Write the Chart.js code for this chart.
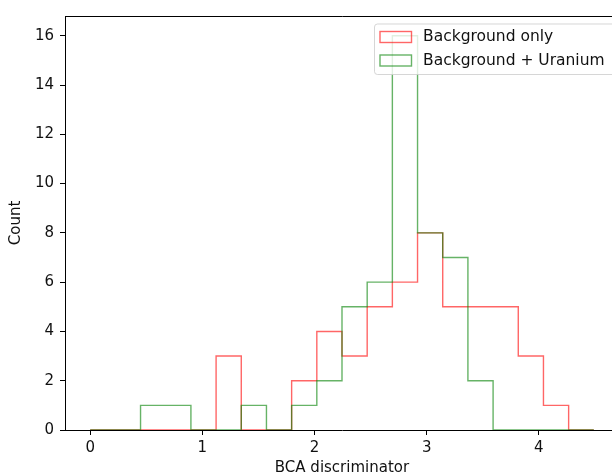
<!DOCTYPE html>
<html>
<head>
<meta charset="utf-8">
<script src="https://cdn.jsdelivr.net/npm/chart.js@4"></script>
<style>
html, body { margin: 0; padding: 0; background: #fff; overflow: hidden; }
#wrap { width: 640px; height: 475px; }
</style>
</head>
<body>
<div id="wrap"><canvas id="myChart" width="640" height="475"></canvas></div>
<script>
// histogram bins (20 bins, 0 .. 4.49)
var binEdges = [0, 0.2245, 0.449, 0.6735, 0.898, 1.1225, 1.347, 1.5715, 1.796, 2.0205,
    2.245, 2.4695, 2.694, 2.9185, 3.143, 3.3675, 3.592, 3.8165, 4.041, 4.2655, 4.49];
var backgroundOnly = [0, 0, 0, 0, 0, 3, 0, 0, 2, 4, 3, 5, 6, 8, 5, 5, 5, 3, 1, 0];
var backgroundUranium = [0, 0, 1, 1, 0, 0, 1, 0, 1, 2, 5, 6, 16, 8, 7, 2, 0, 0, 0, 0];
var seriesNames = ['Background only', 'Background + Uranium'];
var xTicks = [0, 1, 2, 3, 4];
var yTicks = [0, 2, 4, 6, 8, 10, 12, 14, 16];

var RED = 'rgba(255,0,0,0.6)';
var GREEN = 'rgba(0,128,0,0.6)';
var FONT = 'DejaVu Sans';
var FSIZE = 15;

//turn counts into the outline of a step histogram
function stepPoints(counts) {
    var pts = [{x: binEdges[0], y: 0}];
    for (var i = 0; i < counts.length; i++) {
        pts.push({x: binEdges[i], y: counts[i]});
        pts.push({x: binEdges[i + 1], y: counts[i]});
    }
    pts.push({x: binEdges[binEdges.length - 1], y: 0});
    return pts;
}

//top and right spines + the legend box
const framePlugin = {
    id: 'frame',
    afterDraw(chart) {
        const ctx = chart.ctx, a = chart.chartArea;
        ctx.save();
        ctx.strokeStyle = '#000';
        ctx.lineWidth = 1;
        ctx.beginPath();
        ctx.moveTo(a.left, a.top + 0.5);
        ctx.lineTo(a.right + 0.5, a.top + 0.5);
        ctx.lineTo(a.right + 0.5, a.bottom);
        ctx.stroke();

        // legend
        var bx = 374.5, by = 24, bw = 260, bh = 50.5;
        ctx.beginPath();
        ctx.roundRect(bx, by, bw, bh, 3);
        ctx.fillStyle = 'rgba(255,255,255,0.8)';
        ctx.fill();
        ctx.strokeStyle = 'rgba(204,204,204,0.8)';
        ctx.stroke();

        var colors = [RED, GREEN];
        var rows = [37, 60.5];
        ctx.font = '15.5px "' + FONT + '"';
        ctx.textBaseline = 'middle';
        ctx.lineWidth = 1.4;
        for (var i = 0; i < seriesNames.length; i++) {
            ctx.strokeStyle = colors[i];
            ctx.strokeRect(380, rows[i] - 5.5, 31.5, 11);
            ctx.fillStyle = '#111';
            ctx.fillText(seriesNames[i], 423, rows[i]);
        }
        ctx.restore();
    }
};

const GRAPH = document.getElementById('myChart');
const histChart = new Chart(GRAPH, {
    type: 'line',
    data: {
        datasets: [{
            label: seriesNames[0],
            data: stepPoints(backgroundOnly),
            borderColor: RED,
            borderWidth: 1.4,
            order: 2
        }, {
            label: seriesNames[1],
            data: stepPoints(backgroundUranium),
            borderColor: GREEN,
            borderWidth: 1.4,
            order: 1
        }]
    },
    options: {
        responsive: false,
        animation: false,
        layout: { padding: { top: 16, right: 21, left: 0, bottom: 0 } },
        elements: {
            point: { radius: 0 },
            line: { tension: 0, fill: false, borderJoinStyle: 'miter' }
        },
        plugins: {
            legend: { display: false },
            tooltip: { enabled: false }
        },
        scales: {
            x: {
                type: 'linear',
                min: -0.2245,
                max: 4.7145,
                afterBuildTicks: function (axis) {
                    axis.ticks = xTicks.map(function (v) { return {value: v}; });
                },
                afterFit: function (scale) { scale.height = 45; },
                grid: { display: true, drawOnChartArea: false, drawTicks: true, tickLength: 5, tickColor: '#000' },
                border: { display: true, color: '#000' },
                ticks: { color: '#111', padding: 4, font: { family: FONT, size: FSIZE } },
                title: { display: true, text: 'BCA discriminator', color: '#111', padding: { top: 0, bottom: -2 }, font: { family: FONT, size: FSIZE } }
            },
            y: {
                min: 0,
                max: 16.8,
                afterBuildTicks: function (axis) {
                    axis.ticks = yTicks.map(function (v) { return {value: v}; });
                },
                afterFit: function (scale) { scale.width = 65; },
                grid: { display: true, drawOnChartArea: false, drawTicks: true, tickLength: 5, tickColor: '#000' },
                border: { display: true, color: '#000' },
                ticks: { color: '#111', padding: 6, font: { family: FONT, size: FSIZE } },
                title: { display: true, text: 'Count', color: '#111', padding: { top: 7, bottom: 0 }, font: { family: FONT, size: FSIZE } }
            }
        }
    },
    plugins: [framePlugin]
});
</script>
</body>
</html>
